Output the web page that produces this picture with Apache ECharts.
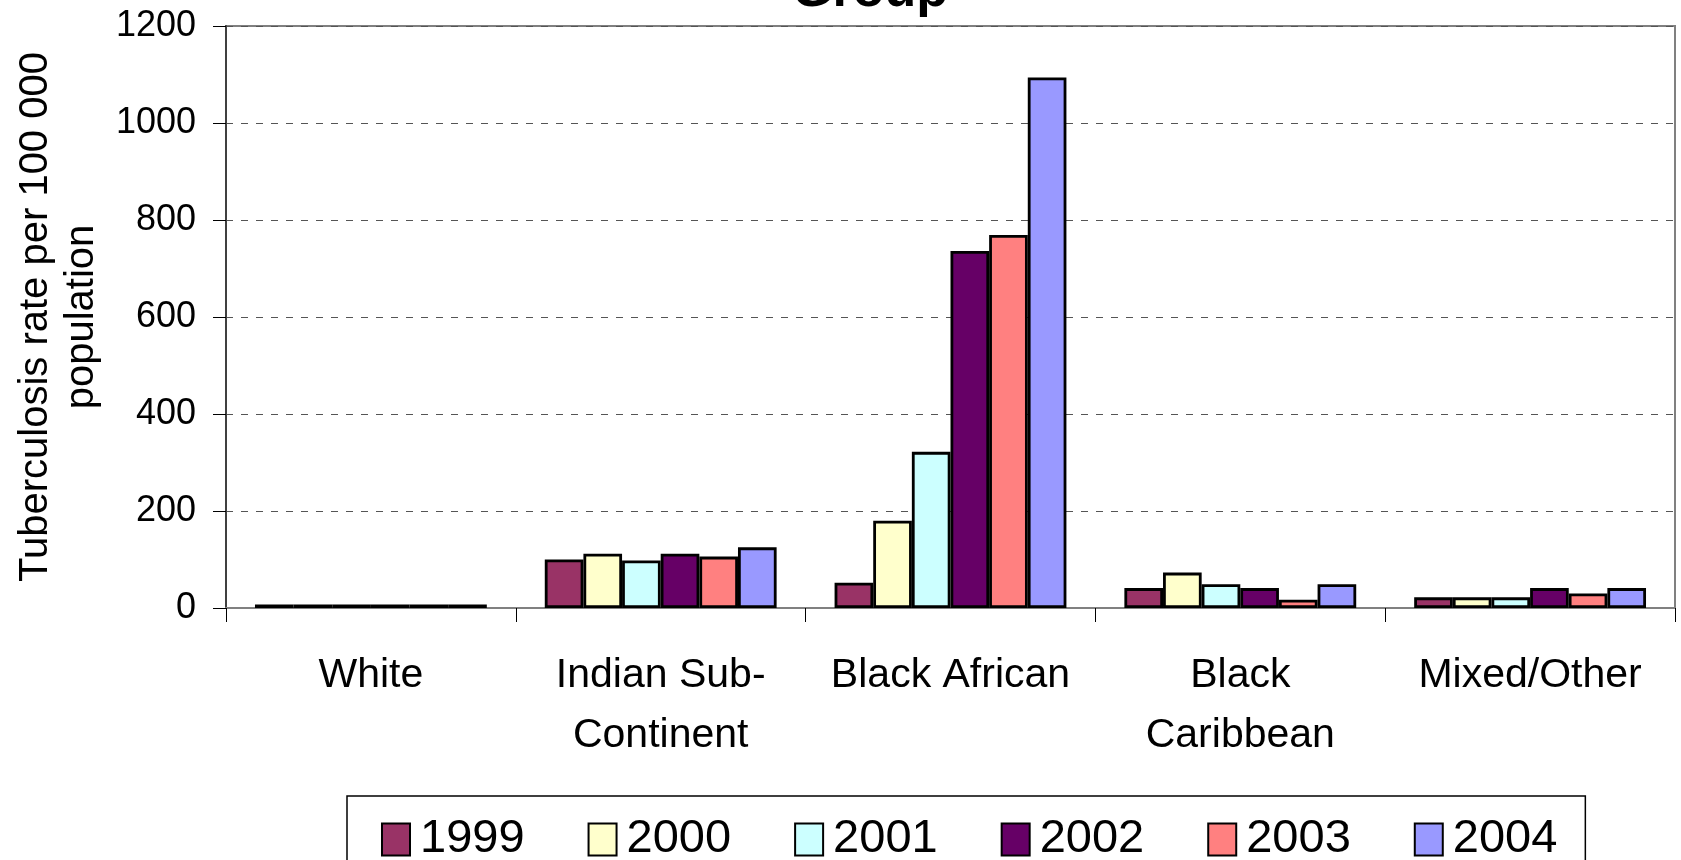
<!DOCTYPE html>
<html>
<head>
<meta charset="utf-8">
<title>Tuberculosis rate by ethnic group</title>
<script src="https://cdn.jsdelivr.net/npm/echarts@6/dist/echarts.min.js"></script>
<style>
  html, body { margin: 0; padding: 0; background: #ffffff; }
  #chart { width: 1681px; height: 860px; }
</style>
</head>
<body>
<div id="chart"></div>
<script>
// Ethnic groups along the category axis
const categories = ['White', 'Indian Sub-\nContinent', 'Black African', 'Black\nCaribbean', 'Mixed/Other'];

// Rate per 100 000 population, one array per year
const years = ['1999', '2000', '2001', '2002', '2003', '2004'];
const rate1999 = [7, 100, 52, 41, 22];
const rate2000 = [7, 112, 180, 73, 22];
const rate2001 = [7, 98, 322, 49, 22];
const rate2002 = [7, 112, 736, 41, 41];
const rate2003 = [7, 106, 769, 17, 30];
const rate2004 = [7, 125, 1094, 49, 41];

// Value axis ticks
const yMin = 0;
const yMax = 1200;
const yStep = 200;

const seriesValues = [rate1999, rate2000, rate2001, rate2002, rate2003, rate2004];
const yearColors = ['#993366', '#FFFFCC', '#CCFFFF', '#660066', '#FF8080', '#9999FF'];

const FONT = '"Liberation Sans", Arial, Helvetica, sans-serif';

const chart = echarts.init(document.getElementById('chart'), null, { renderer: 'canvas' });

const series = years.map((year, i) => ({
  name: year,
  type: 'bar',
  data: seriesValues[i],
  barGap: '0%',
  barCategoryGap: '20%',
  itemStyle: {
    color: yearColors[i],
    borderColor: '#000000',
    borderWidth: 2.8
  },
  emphasis: { disabled: true }
}));

chart.setOption({
  animation: false,
  backgroundColor: '#ffffff',
  graphic: [{
    type: 'text',
    z: 10,
    style: {
      text: 'Group',
      x: 870,
      y: -8,
      align: 'center',
      verticalAlign: 'middle',
      font: 'bold 52px ' + FONT,
      fill: '#000000'
    }
  }],
  grid: {
    left: 226,
    right: 6,
    top: 26,
    bottom: 252,
    containLabel: false,
    outerBoundsMode: 'none',
    show: true,
    borderColor: '#808080',
    borderWidth: 2,
    backgroundColor: 'transparent'
  },
  legend: {
    data: years,
    orient: 'horizontal',
    left: 347,
    top: 796,
    padding: [20, 28, 40, 34],
    itemWidth: 28,
    itemHeight: 32,
    itemGap: 63,
    icon: 'rect',
    borderColor: '#000000',
    borderWidth: 1.5,
    itemStyle: { borderColor: '#000000', borderWidth: 2 },
    textStyle: {
      fontFamily: FONT,
      fontSize: 47,
      color: '#000000',
      padding: [0, 0, 0, 5]
    },
    selectedMode: false
  },
  xAxis: {
    type: 'category',
    data: categories,
    boundaryGap: true,
    axisLine: { show: true, lineStyle: { color: '#808080', width: 2 } },
    axisTick: { show: true, length: 14, lineStyle: { color: '#000000', width: 1 } },
    axisLabel: {
      show: true,
      interval: 0,
      margin: 38,
      fontFamily: FONT,
      fontSize: 41,
      lineHeight: 60,
      color: '#000000',
      align: 'center'
    },
    splitLine: { show: false }
  },
  yAxis: {
    type: 'value',
    min: yMin,
    max: yMax,
    interval: yStep,
    name: 'Tuberculosis rate per 100 000\npopulation',
    nameLocation: 'middle',
    nameRotate: 90,
    nameGap: 118,
    nameTextStyle: {
      fontFamily: FONT,
      fontSize: 40,
      lineHeight: 46,
      color: '#000000',
      align: 'center'
    },
    axisLine: { show: true, lineStyle: { color: '#404040', width: 2 } },
    axisTick: { show: true, inside: false, length: 13, lineStyle: { color: '#000000', width: 1 } },
    axisLabel: {
      margin: 30,
      fontFamily: FONT,
      fontSize: 36,
      color: '#000000',
      formatter: (v) => String(v)
    },
    splitLine: {
      show: true,
      lineStyle: { color: '#555555', width: 1, type: [7, 8] }
    }
  },
  series: series
});
</script>
</body>
</html>
